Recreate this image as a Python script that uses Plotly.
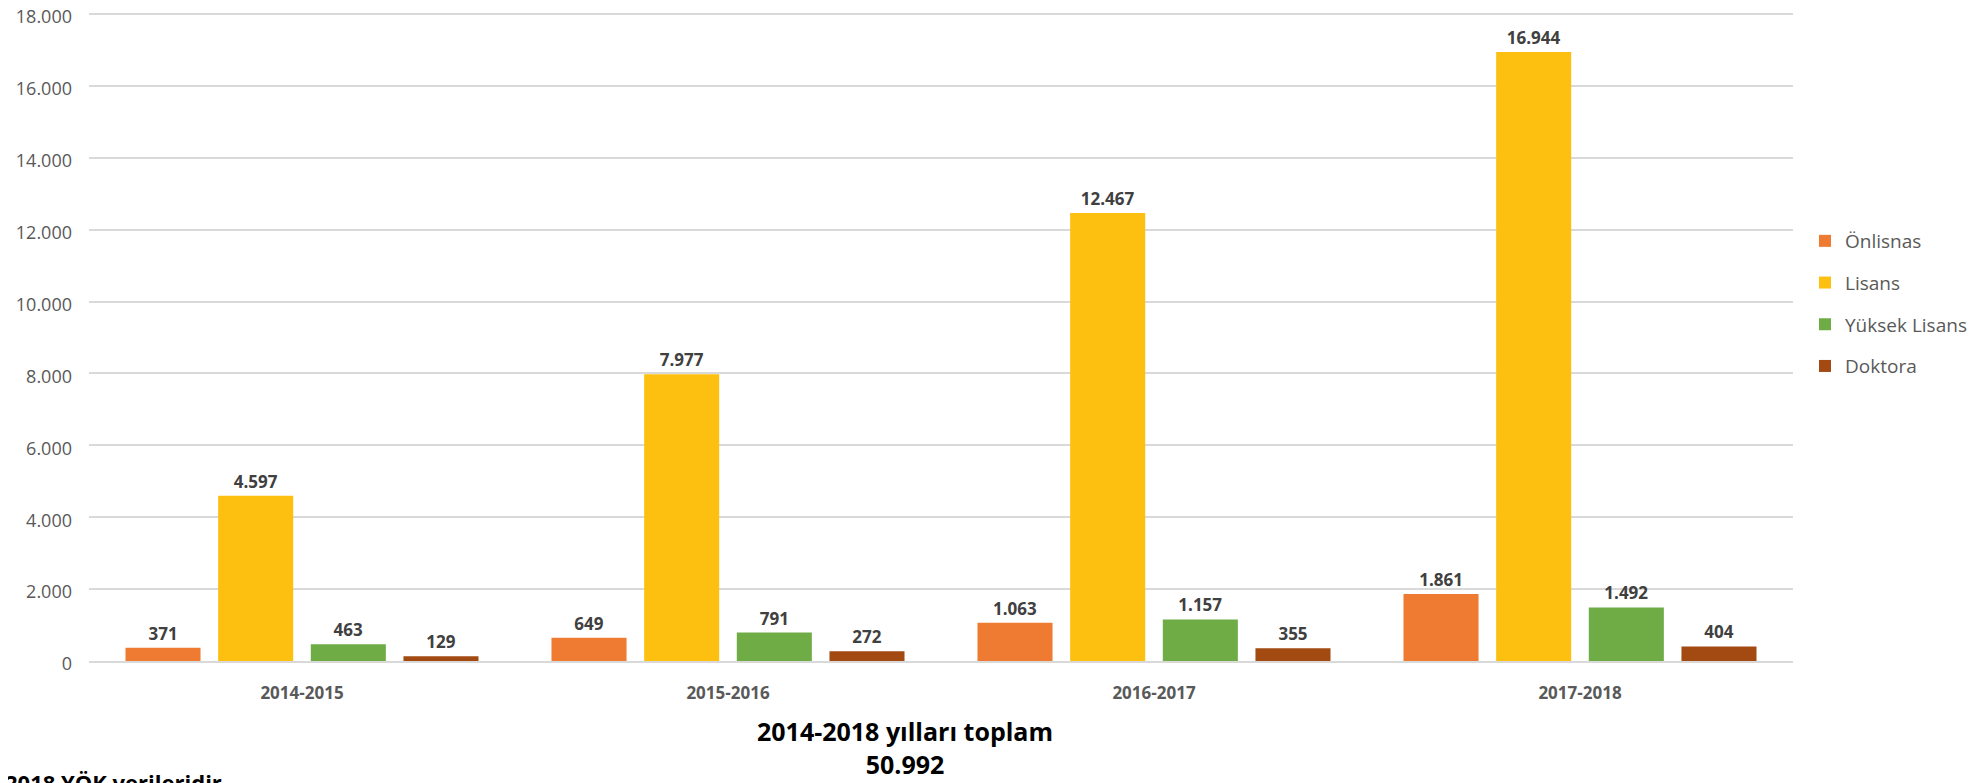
import plotly.graph_objects as go

categories = ["2014-2015", "2015-2016", "2016-2017", "2017-2018"]
series_names = ["Önlisnas", "Lisans", "Yüksek Lisans", "Doktora"]
onlisans = [371, 649, 1063, 1861]
lisans = [4597, 7977, 12467, 16944]
yuksek_lisans = [463, 791, 1157, 1492]
doktora = [129, 272, 355, 404]
y_ticks = [0, 2000, 4000, 6000, 8000, 10000, 12000, 14000, 16000, 18000]
total_title = "2014-2018 yılları toplam"
total_value = "50.992"
source_note = "2018 YÖK verileridir"

series_values = [onlisans, lisans, yuksek_lisans, doktora]
colors = ["#EF7B32", "#FDC011", "#6FAC46", "#A24A12"]

OFF = 8  # page body margin
W, H = 1977 - OFF, 783 - OFF
# plot area in page pixels: x 89..1793, y 13..661
L = 89 - OFF
T = 13 - OFF
R = W - (1793 - OFF)
B = H - (661 - OFF)
pw = W - L - R
ph = H - T - B

fig = go.Figure()
for name, vals, col in zip(series_names, series_values, colors):
    fig.add_trace(go.Bar(
        name=name, x=categories, y=vals,
        marker=dict(color=col, line=dict(width=0)),
        texttemplate="%{y:,}", textposition="outside",
        textfont=dict(family="Open Sans", size=17, color="#404040", weight="bold"),
        cliponaxis=False, legendgroup=name,
    ))

def px_x(x):
    # page x -> paper fraction
    return (x - OFF - L) / pw

def px_y(y):
    # page y -> paper fraction
    return (H - B - (y - OFF)) / ph

fig.update_layout(
    width=W, height=H,
    margin=dict(l=L, r=R, t=T, b=B, autoexpand=False),
    paper_bgcolor="white", plot_bgcolor="white",
    separators=",.",
    barmode="group", bargap=0.13, bargroupgap=0.19,
    font=dict(family="Open Sans", color="#595959"),
    legend=dict(
        x=px_x(1805), xanchor="left", y=px_y(222), yanchor="top",
        font=dict(family="Open Sans", size=19, color="#595959"),
        traceorder="grouped", tracegroupgap=14,
        bgcolor="rgba(0,0,0,0)", itemwidth=30,
    ),
    xaxis=dict(
        automargin=False,
        showgrid=False, showline=True, linecolor="#D9D9D9", linewidth=2,
        ticks="", ticklabelstandoff=16,
        tickfont=dict(family="Open Sans", size=17, color="#595959", weight="bold"),
    ),
    yaxis=dict(
        automargin=False, ticklabeloverflow="allow", ticklabelshift=3,
        range=[0, 18030], tickvals=y_ticks, tickformat=",",
        showgrid=True, gridcolor="#D9D9D9", gridwidth=1.5,
        zeroline=False, showline=False, ticks="", ticklabelstandoff=16,
        tickfont=dict(family="Open Sans", size=18, color="#595959"),
    ),
    annotations=[
        dict(
            text="<b>" + total_title + "<br>" + total_value + "</b>",
            xref="paper", yref="paper", x=px_x(905), y=px_y(712),
            xanchor="center", yanchor="top", showarrow=False,
            font=dict(family="Open Sans", size=25, color="#000000"),
        ),
        dict(
            text="<b>" + source_note + "</b>",
            xref="paper", yref="paper", x=px_x(3), y=px_y(765),
            xanchor="left", yanchor="top", showarrow=False,
            font=dict(family="Open Sans", size=22, color="#000000"),
        ),
    ],
)

fig.write_html("out.html")
